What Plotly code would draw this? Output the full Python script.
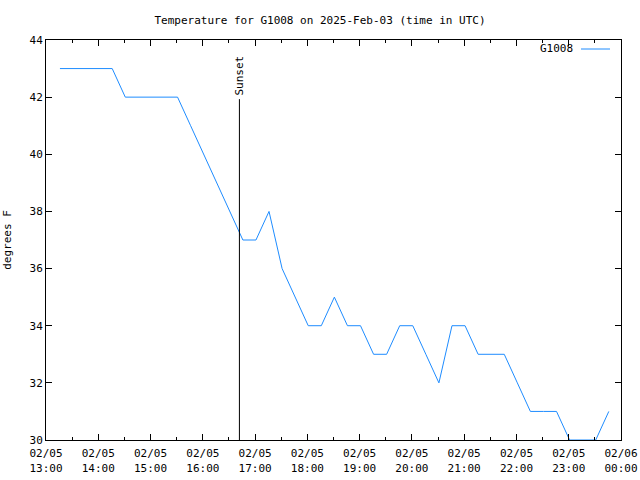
import plotly.graph_objects as go

# ---- data ----
times = ["13:16", "13:31", "13:46", "14:01", "14:16", "14:31", "14:46", "15:01", "15:16",
         "15:31", "15:46", "16:01", "16:16", "16:31", "16:46", "17:01", "17:16", "17:31",
         "17:46", "18:01", "18:16", "18:31", "18:46", "19:01", "19:16", "19:31", "19:46",
         "20:01", "20:16", "20:31", "20:46", "21:01", "21:16", "21:31", "21:46", "22:01",
         "22:16", "22:31", "22:46", "23:01", "23:16", "23:31", "23:46"]
temps = [43, 43, 43, 43, 43, 42, 42, 42, 42,
         42, 41, 40, 39, 38, 37, 37, 38, 36,
         35, 34, 34, 35, 34, 34, 33, 33, 34,
         34, 33, 32, 34, 34, 33, 33, 33, 32,
         31, 31, 31, 30, 30, 30, 31]
day = "2025-02-05"
sunset_time = "16:42:00"
sunset_top = 41.93
tick_hours = ["13:00", "14:00", "15:00", "16:00", "17:00", "18:00", "19:00",
              "20:00", "21:00", "22:00", "23:00"]
tick_dates = ["02/05"] * 11 + ["02/06"]
tick_times = tick_hours + ["00:00"]
ytick_vals = [30, 32, 34, 36, 38, 40, 42, 44]
series_name = "G1008"
title = "Temperature for G1008 on 2025-Feb-03 (time in UTC)"

FONT = "DejaVu Sans Mono"
x = [f"{day} {t}" for t in times]
tickvals = [f"{day} {h}" for h in tick_hours] + ["2025-02-06 00:00"]
ticktext = [f"{d}<br>{t}" for d, t in zip(tick_dates, tick_times)]
minor_vals = [f"{day} {h[:2]}:30" for h in tick_hours]

fig = go.Figure()
fig.add_trace(go.Scatter(x=x, y=temps, mode="lines", name=series_name,
                         line=dict(color="#1E8CFF", width=1), showlegend=False))

sx = f"{day} {sunset_time}"
fig.add_trace(go.Scatter(x=[sx, sx], y=[30, sunset_top], mode="lines",
                         line=dict(color="black", width=1), showlegend=False,
                         hoverinfo="skip"))
fig.add_annotation(x=sx, y=sunset_top, text="Sunset", textangle=-90,
                   showarrow=False, yanchor="bottom", xanchor="center",
                   yshift=2, font=dict(family=FONT, size=11, color="black"))

# legend (gnuplot style: text then sample line)
fig.add_annotation(xref="paper", yref="paper", x=(575 - 46) / 575, y=1 - 9 / 400,
                   text=series_name, showarrow=False, xanchor="right", yanchor="middle",
                   font=dict(family=FONT, size=11, color="black"))
fig.add_shape(type="line", xref="paper", yref="paper", x0=(581 - 46) / 575,
              x1=(610 - 46) / 575, y0=1 - 9 / 400, y1=1 - 9 / 400,
              line=dict(color="#1E8CFF", width=1))

axis_common = dict(showline=True, linecolor="black", linewidth=1, mirror="ticks",
                   ticks="inside", tickcolor="black", showgrid=False, zeroline=False,
                   automargin=False,
                   tickfont=dict(family=FONT, size=11, color="black"))
fig.update_xaxes(range=[f"{day} 13:00", "2025-02-06 00:00"], tickmode="array",
                 tickvals=tickvals, ticktext=ticktext, ticklen=6, ticklabelstandoff=3,
                 minor=dict(tickmode="array", tickvals=minor_vals, ticks="inside",
                            ticklen=3, tickcolor="black"),
                 **axis_common)
fig.update_yaxes(range=[30, 44], tickmode="array", tickvals=ytick_vals, ticklen=6,
                 title=dict(text="degrees F", font=dict(family=FONT, size=11, color="black")),
                 **axis_common)

fig.update_layout(
    width=640, height=480,
    margin=dict(l=46, r=19, t=40, b=40),
    paper_bgcolor="white", plot_bgcolor="white",
    title=dict(text=title, x=0.5, xanchor="center", y=1 - 20 / 480, yanchor="middle",
               font=dict(family=FONT, size=11, color="black")),
    showlegend=False,
)
fig.write_html("out.html", config={"displayModeBar": False},
               post_script="document.body.style.margin='0';document.body.style.overflow='hidden';")
